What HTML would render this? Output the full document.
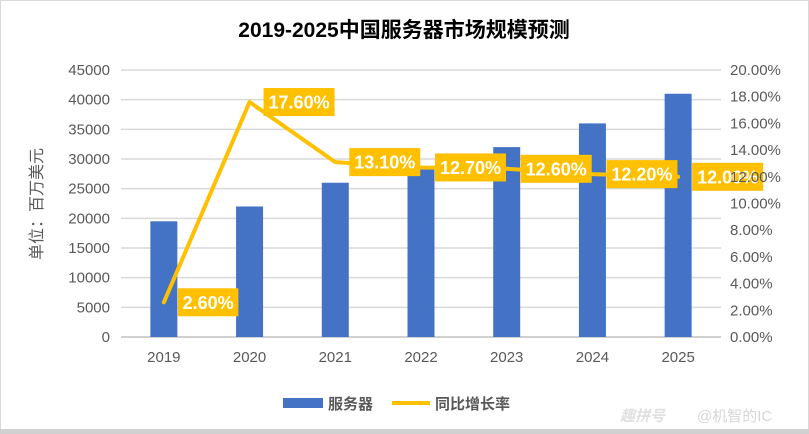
<!DOCTYPE html>
<html><head><meta charset="utf-8"><style>
html,body{margin:0;padding:0;background:#fff}
svg{display:block;font-family:"Liberation Sans","Noto Sans CJK SC",sans-serif}
</style></head><body>
<svg id="c" width="809" height="434" viewBox="0 0 809 434">
<rect x="0.5" y="0.5" width="808" height="433" fill="#fff" stroke="#d9d9d9"/>
<rect x="0" y="429" width="809" height="5" fill="#d0d0d0"/>
<text x="404" y="37" text-anchor="middle" font-size="21" font-weight="bold" fill="#000">2019-2025中国服务器市场规模预测</text>
<text transform="translate(42,204) rotate(-90)" text-anchor="middle" font-size="16" fill="#595959">单位：百万美元</text>
<g id="grid"></g><g id="bars"></g><g id="line"></g><g id="labels"></g><g id="axes"></g>
<g>
<rect x="283" y="398" width="40" height="10" fill="#4472C4"/>
<text x="328" y="409" font-size="15" font-weight="bold" fill="#595959">服务器</text>
<line x1="392" y1="403" x2="430" y2="403" stroke="#FFC000" stroke-width="4"/>
<text x="435" y="409" font-size="15" font-weight="bold" fill="#595959">同比增长率</text>
</g>
<text x="620" y="421" font-size="15" font-style="italic" font-weight="bold" fill="#e0e0e0">趣拼号</text>
<text x="697" y="421" font-size="15" fill="#d6d6d6">@机智的IC</text>
</svg>
<script>
const categories=["2019","2020","2021","2022","2023","2024","2025"];
const serverValues=[19500,22000,26000,28500,32000,36000,41000];
const growthValues=[2.6,17.6,13.1,12.7,12.6,12.2,12.0];
const growthLabels=["2.60%","17.60%","13.10%","12.70%","12.60%","12.20%","12.00%"];
const leftTicks=[0,5000,10000,15000,20000,25000,30000,35000,40000,45000];
const rightTicks=["0.00%","2.00%","4.00%","6.00%","8.00%","10.00%","12.00%","14.00%","16.00%","18.00%","20.00%"];
const NS="http://www.w3.org/2000/svg";
const X0=121,X1=721,Y0=337,Y1=70;
const step=(X1-X0)/categories.length;
const xc=i=>X0+step*(i+0.5);
const yL=v=>Y0-(v/45000)*(Y0-Y1);
const yR=v=>Y0-(v/20)*(Y0-Y1);
function mk(tag,attrs,parent){const e=document.createElementNS(NS,tag);for(const k in attrs)e.setAttribute(k,attrs[k]);document.getElementById(parent).appendChild(e);return e;}
leftTicks.forEach((t,i)=>{
 const y=yL(t);
 const g=mk("line",{x1:X0,x2:X1,y1:y,y2:y,stroke:i===0?"#d0d0d0":"#d9d9d9","stroke-width":i===0?2:1.5},"grid");
 
 
 const tx=mk("text",{x:110,y:y+5,"text-anchor":"end","font-size":"15",fill:"#595959"},"axes");
 tx.textContent=t;
 
 
});
rightTicks.forEach((t,i)=>{
 const tx=mk("text",{x:730,y:yR(i*2)+5,"font-size":"15",fill:"#595959"},"axes");
 tx.textContent=t;
 
 
});
categories.forEach((c,i)=>{
 const tx=mk("text",{x:xc(i),y:362,"text-anchor":"middle","font-size":"15",fill:"#595959"},"axes");
 tx.textContent=c;
 
 
});
serverValues.forEach((v,i)=>{
 const b=mk("rect",{x:xc(i)-13.5,y:yL(v),width:27,height:Y0-yL(v),fill:"#4472C4"},"bars");
 
 
});
const pts=growthValues.map((v,i)=>xc(i)+","+yR(v)).join(" ");
const pl=mk("polyline",{points:pts,fill:"none",stroke:"#FFC000","stroke-width":4,"stroke-linejoin":"round","stroke-linecap":"round"},"line");


growthValues.forEach((v,i)=>{
 const lab=growthLabels[i];
 const w=lab.length*10.5+8;
 const x=xc(i)+14,y=yR(v);
 const r=mk("rect",{x:x,y:y-14,width:w,height:28,fill:"#FFC000"},"labels");
 
 
 const t=mk("text",{x:x+w/2,y:y+6.5,"text-anchor":"middle","font-size":"18","font-weight":"bold",fill:"#fff"},"labels");
 t.textContent=lab;
 
 
});
</script>
</body></html>
